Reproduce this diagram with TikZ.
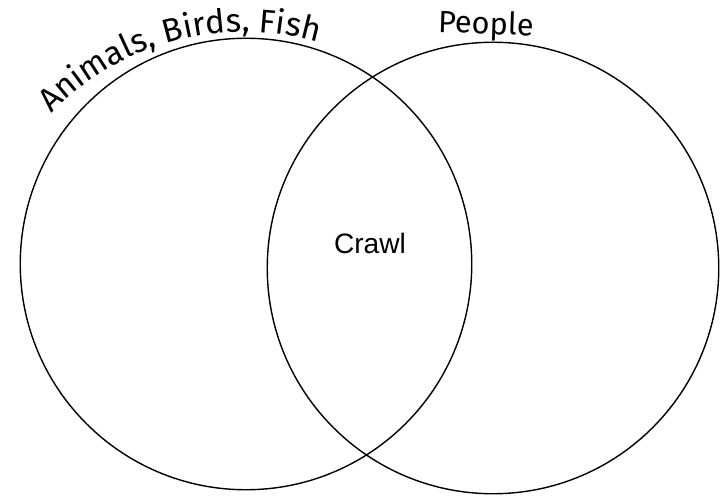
\documentclass[tikz,border=0pt]{standalone}
\usepackage{fontspec}
\setmainfont{Liberation Sans}
\newfontfamily\handfont{Fira Sans}
\usetikzlibrary{decorations.text}

\begin{document}
\begin{tikzpicture}[
    ring/.style  = {draw, circle, line width=0.8pt, inner sep=0pt,
                    minimum size=9.03cm},
    hand/.style  = {font=\handfont\fontsize{17.5}{20}\selectfont},
    word/.style  = {font=\fontsize{16}{19}\selectfont},
  ]
    \useasboundingbox (0,0) rectangle (14.5,9.9);

    \node[ring] (left)  at (4.92,4.62) {};
    \node[ring] (right) at (9.86,4.54) {};

    % curved title over the left circle
    \coordinate (arcc) at (4.88,3.90);
    \path[decorate, decoration={text along path,
          text={|\handfont\fontsize{18.8}{22}\selectfont|Animals, Birds, Fish}}]
      (arcc) ++(136:5.36) arc[start angle=136, end angle=55, radius=5.36];

    \node[hand, anchor=base, rotate=-2] (people) at (9.71,9.22) {People};
    \node[word, anchor=base] (crawl) at (7.40,4.84) {Crawl};
  \end{tikzpicture}
\end{document}
